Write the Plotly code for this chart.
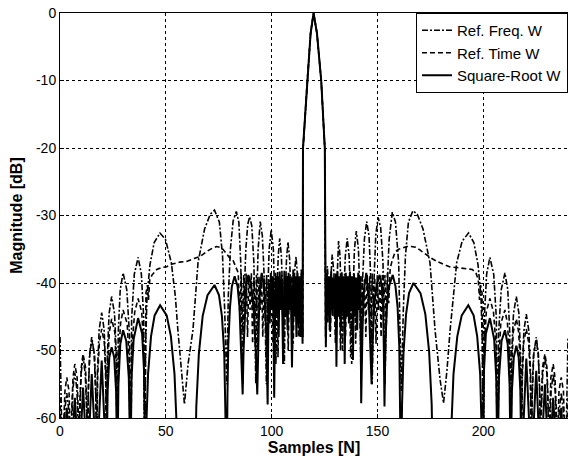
import plotly.graph_objects as go

# values: (sample, magnitude dB)
freq_pts = [
    (0, -48), (1.3, -70),
    (1.6, -65.3), (2.25, -58.8), (3.2, -56.3), (4.15, -58.8), (4.8, -65.3), (5.1, -70),
    (5.4, -62.3), (6.05, -55.8), (7, -53.3), (8, -55.8), (8.7, -62.3), (9, -70),
    (9.3, -60), (9.95, -53.5), (10.9, -51), (11.95, -53.5), (12.7, -60), (13, -70),
    (13.3, -57), (14, -50.5), (15, -48), (16.15, -50.5), (16.95, -57), (17.3, -70),
    (17.65, -53.4), (18.5, -46.9), (19.7, -44.4), (20.85, -46.9), (21.65, -53.4), (22, -70),
    (22.35, -51), (23.2, -44.5), (24.4, -42), (25.75, -44.5), (26.7, -51), (27.1, -70),
    (27.5, -47.5), (28.45, -41), (29.8, -38.5), (31.55, -41), (32.8, -47.5), (33.3, -70),
    (33.85, -45.2), (35.1, -38.7), (36.9, -36.2), (38.45, -38.7), (39.55, -45.2), (40, -70),
    (40.4, -50), (41.1, -42), (42.5, -37.3), (44.5, -34), (47.2, -32.6), (49.8, -33.5),
    (52.6, -37), (54.5, -42), (55.7, -47), (57.5, -54), (58.8, -58),
    (60.5, -52), (62.8, -47), (65.2, -37), (68.3, -32), (71, -29.8), (73, -29.2),
    (75.3, -31), (76.8, -36), (77.8, -44), (78.8, -55),
    (79.5, -42), (80.5, -35), (81.8, -30.8), (83.3, -29.4), (84.5, -31), (85.4, -37), (86.4, -55),
    (87, -42), (87.8, -35), (88.7, -31.3), (89.6, -30.2), (90.6, -31.5), (91.6, -37), (92.5, -55),
    (93, -42), (93.6, -35), (94.6, -30.9), (95.6, -33), (96.6, -40), (97.5, -55),
    (98, -43), (98.8, -35), (99.8, -32.1), (100.8, -35), (101.4, -42), (102, -52),
    (102.5, -42), (103.1, -36), (103.8, -33.4), (104.6, -36), (105.3, -43), (106, -52),
    (106.4, -43), (107, -36.5), (107.7, -33.9), (108.5, -36.5), (109.2, -43), (109.8, -50),
    (110.3, -43), (110.9, -38), (111.5, -36.1), (112.1, -38.5), (113, -48),
    (113.6, -40), (114, -38), (114.5, -45),
    (114.7, -48), (114.85, -20), (116.8, -10), (118.4, -3), (119.8, 0), (121.4, -3),
    (123.4, -10), (125.1, -20), (125.5, -48),
    (125.9, -40), (126.3, -37.5), (126.8, -40), (127.3, -47),
    (127.8, -40), (128.6, -35.8), (129.4, -38.5), (130.2, -48),
    (130.7, -41), (131.1, -36.5), (131.6, -33.8), (132.3, -36), (132.9, -42), (133.4, -50),
    (134, -42), (134.8, -36), (135.7, -33.4), (136.6, -36), (137.3, -43), (137.8, -52),
    (138.4, -42), (139.1, -35), (140, -32.3), (141, -35), (141.7, -42), (142.2, -55),
    (142.9, -40), (143.8, -33.5), (144.9, -30.9), (146, -33), (146.9, -40), (147.5, -55),
    (148.3, -40), (149.2, -32.8), (150.3, -30.3), (151.5, -31.8), (152.6, -37), (153.5, -55),
    (154.4, -42), (155.5, -33.5), (157, -29.5), (158.5, -31), (160, -37), (161.2, -56),
    (162.2, -44), (163.2, -36), (164.6, -31), (166.7, -29.3), (168.8, -29.8), (171.5, -32),
    (174.8, -37), (177.2, -47), (179.6, -54.4), (181.2, -57.8),
    (182.8, -53), (184.3, -47), (187.4, -37), (190, -33.8), (193, -32.6), (195.5, -34),
    (197.5, -37.3), (198.9, -42), (199.6, -50), (200, -70),
    (200.45, -45.2), (201.55, -38.7), (203.1, -36.2), (204.9, -38.7), (206.15, -45.2), (206.7, -70),
    (207.2, -47.5), (208.45, -41), (210.2, -38.5), (211.55, -41), (212.5, -47.5), (212.9, -70),
    (213.3, -51), (214.25, -44.5), (215.6, -42), (216.8, -44.5), (217.65, -51), (218, -70),
    (218.35, -53.6), (219.15, -47.1), (220.3, -44.6), (221.5, -47.1), (222.35, -53.6), (222.7, -70),
    (223.05, -57), (223.85, -50.5), (225, -48), (226, -50.5), (226.7, -57), (227, -70),
    (227.3, -60), (228.05, -53.5), (229.1, -51), (230.05, -53.5), (230.7, -60), (231, -70),
    (231.3, -62.5), (232, -56), (233, -53.5), (233.95, -56), (234.6, -62.5), (234.9, -70),
    (235.2, -65.3), (235.85, -58.8), (236.8, -56.3), (237.75, -58.8), (238.4, -65.3), (238.7, -70),
    (240, -48),
]

time_pts = [
    (0, -57), (1.3, -68),
    (1.7, -61), (2.35, -56), (3.2, -54), (4.25, -56), (4.7, -61), (5.1, -68),
    (5.5, -59), (6.15, -54), (7, -52), (8.1, -54), (8.6, -59), (9, -68),
    (9.4, -57.5), (10.05, -52.5), (10.9, -50.5), (12.05, -52.5), (12.6, -57.5), (13, -68),
    (13.4, -55.5), (14.1, -50.5), (15, -48.5), (16.3, -50.5), (16.85, -55.5), (17.3, -68),
    (17.8, -53.8), (18.6, -48.8), (19.7, -46.8), (20.95, -48.8), (21.55, -53.8), (22, -68),
    (22.5, -52.3), (23.3, -47.3), (24.4, -45.3), (25.9, -47.3), (26.55, -52.3), (27.1, -68),
    (27.65, -51), (28.6, -46), (29.8, -44), (31.75, -46), (32.6, -51), (33.3, -68),
    (34, -49.3), (35.3, -44.3), (36.9, -42.3), (38.6, -44.3), (39.5, -49.3), (40.2, -62),
    (40.6, -41.5), (41.3, -40.3), (41.8, -42.5), (42.4, -39.5), (43.5, -38.8), (45.7, -38),
    (48, -37.7), (50.4, -37.6), (53, -37.2), (56.6, -36.9), (59.8, -36.8), (62, -36.5),
    (64, -36.3), (66, -36.1), (68, -35.6), (70, -35.2), (72.2, -34.8), (74, -34.6),
    (75.5, -34.7), (77, -35), (78.5, -35.6), (80, -36.2), (81.7, -36.6), (83, -37.5), (84.2, -38.5),
    (85, -45), (85.6, -38.6), (86.2, -47), (86.8, -38.8), (87.4, -44), (88, -38.6), (88.6, -48),
    (89.2, -39), (89.8, -44), (90.4, -38.5), (91, -49), (91.6, -39.2), (92.2, -45), (92.8, -38.8),
    (93.4, -50), (94, -39), (94.6, -44), (95.2, -38.6), (95.8, -48), (96.4, -39.3), (97, -45),
    (97.6, -38.8), (98.2, -50), (98.8, -39.5), (99.4, -44), (100, -39), (100.6, -49), (101.2, -39.6),
    (101.8, -45), (102.4, -39), (103, -51), (103.6, -39.4), (104.2, -44), (104.8, -38.8), (105.4, -48),
    (106, -39.5), (106.6, -45), (107.2, -39), (107.8, -50), (108.4, -39.8), (109, -44), (109.6, -39),
    (110.2, -49), (110.8, -39.4), (111.4, -45), (112, -39), (112.6, -48), (113.2, -39.6), (113.8, -46),
    (114.3, -39.2),
    (114.7, -48), (114.85, -20), (116.8, -10), (118.4, -3), (119.8, 0), (121.4, -3),
    (123.4, -10), (125.1, -20), (125.5, -48),
    (125.9, -39.2), (126.5, -46), (127.1, -39.6), (127.7, -48), (128.3, -39), (128.9, -45),
    (129.5, -39.4), (130.1, -49), (130.7, -39), (131.3, -44), (131.9, -39.8), (132.5, -50),
    (133.1, -39), (133.7, -45), (134.3, -39.5), (134.9, -48), (135.5, -39), (136.1, -44),
    (136.7, -38.8), (137.3, -51), (137.9, -39.4), (138.5, -45), (139.1, -39), (139.7, -49),
    (140.3, -39.6), (140.9, -44), (141.5, -39), (142.1, -50), (142.7, -38.8), (143.3, -45),
    (143.9, -39.3), (144.5, -48), (145.1, -38.8), (145.7, -44), (146.3, -39), (146.9, -50),
    (147.5, -38.6), (148.1, -45), (148.7, -39.2), (149.3, -49), (149.9, -38.8), (150.5, -44),
    (151.1, -39), (151.7, -48), (152.3, -38.6), (152.9, -45), (153.5, -38.8), (154.1, -47),
    (154.7, -38.5), (155.3, -43),
    (156, -37.8), (157, -36.6), (158.3, -35.4), (160, -35), (162, -34.8), (164, -34.6),
    (166, -34.6), (168, -34.7), (170, -35.1), (172, -35.6), (175.3, -36.3), (178, -36.8),
    (181, -37.2), (184, -37.6), (187, -37.7), (190, -37.8), (192.5, -37.9), (194.8, -38),
    (196.5, -38.5), (197.6, -39.5), (198.2, -42.5), (198.7, -40.3), (199.4, -41.5), (199.8, -62),
    (200.5, -49.3), (201.4, -44.3), (203.1, -42.3), (204.8, -44.3), (206, -49.3), (206.7, -68),
    (207.4, -51), (208.25, -46), (210.2, -44), (211.4, -46), (212.35, -51), (212.9, -68),
    (213.45, -52.3), (214.1, -47.3), (215.6, -45.3), (216.7, -47.3), (217.5, -52.3), (218, -68),
    (218.45, -53.8), (219.05, -48.8), (220.3, -46.8), (221.4, -48.8), (222.2, -53.8), (222.7, -68),
    (223.15, -55.5), (223.7, -50.5), (225, -48.5), (225.9, -50.5), (226.6, -55.5), (227, -68),
    (227.4, -57.5), (227.95, -52.5), (229.1, -50.5), (230.05, -52.5), (230.6, -57.5), (231, -68),
    (231.4, -59), (231.9, -54), (233, -52), (233.85, -54), (234.5, -59), (234.9, -68),
    (235.3, -61), (235.75, -56), (236.8, -54), (237.85, -56), (238.3, -61), (238.7, -68),
    (240, -57),
]

sqrt_pts = [
    (0, -61), (1.3, -68), (3.2, -58.5), (5.1, -68), (7, -57), (9, -68), (10.9, -55.5), (13, -68),
    (15, -53.5), (17.3, -68), (19.7, -51.5), (22, -68),
    (22.5, -56), (23.3, -51), (24.4, -49.5), (25.6, -51), (26.5, -56), (27.1, -68),
    (27.6, -55), (28.5, -49), (29.8, -47), (31.3, -48.6), (32.5, -54), (33.3, -68),
    (33.8, -54), (34.8, -48.3), (36.9, -45.2), (38.8, -47.5), (39.7, -53), (40.2, -68),
    (40.8, -61), (41.6, -53.5), (43.0, -47.9), (44.7, -44.8), (47.3, -43.3), (50.4, -44.8),
    (52.4, -47.9), (54.1, -53.5), (55.1, -61), (55.8, -70),
    (63.7, -70), (64.4, -58.3), (65.6, -50.5), (67.4, -44.9), (69.7, -41.8), (73, -40.3),
    (75.1, -41.8), (76.5, -44.9), (77.6, -50.5), (78.3, -58.3), (78.8, -70),
    (79.1, -57), (79.5, -49.2), (80.3, -43.6), (81.2, -40.5), (82.5, -39), (83.9, -40.5),
    (84.8, -43.6), (85.5, -49.2), (86.3, -56.5),
    (86.7, -50), (87.3, -44), (88, -40.3), (89, -38.8), (90.3, -40.3), (91.5, -44), (92.5, -50), (93.2, -56.5),
    (93.6, -49), (94.2, -42), (95.3, -38.5), (96.5, -41), (97.4, -47), (98.1, -58),
    (98.6, -40), (99.1, -46), (99.6, -38.5), (100.1, -44), (100.6, -39), (101.2, -57), (101.8, -38.5),
    (102.3, -45), (102.8, -39), (103.3, -48), (103.8, -38.3), (104.3, -44), (104.8, -39.5), (105.4, -52),
    (106, -38.2), (106.5, -45), (107, -39), (107.5, -47), (108, -38.5), (108.5, -44), (109, -39),
    (109.6, -52.5), (110.2, -38), (110.7, -45), (111.2, -39), (111.7, -48), (112.2, -38.5), (112.7, -46),
    (113.2, -39), (113.7, -48), (114.2, -38.5),
    (114.6, -49), (114.8, -20), (116.8, -10), (118.4, -3), (119.8, 0), (121.4, -3),
    (123.4, -10), (125.1, -20), (125.6, -49.5),
    (126.1, -38.5), (126.6, -45), (127.1, -39), (127.6, -47), (128.1, -38.3), (128.6, -44),
    (129.1, -39.2), (129.7, -45), (130.2, -38.6), (130.6, -52.4), (131.1, -38.3), (131.6, -45),
    (132.1, -39), (132.6, -47), (133.1, -38.4), (133.6, -44), (134.1, -39), (134.5, -52),
    (135, -38.5), (135.5, -45), (136, -39), (136.5, -46), (137, -38.3), (137.5, -44), (138, -39),
    (138.4, -51.4), (138.9, -38.6), (139.4, -45), (139.9, -39.2), (140.4, -47), (140.9, -38.5),
    (141.4, -44), (141.9, -39),
    (142.3, -57.8), (142.9, -47), (143.6, -41), (144.7, -38.5), (145.8, -42), (146.5, -49), (147.2, -55),
    (147.7, -49), (148.4, -43.5), (149.6, -40.2), (151, -38.8), (152, -40.3), (152.7, -44), (153, -50), (153.3, -58.3),
    (153.7, -49.5), (154.4, -43.6), (155.4, -40.5), (157.2, -38.8), (158.5, -40.5), (159.5, -43.6),
    (160.3, -49.5), (160.8, -57), (161.1, -70),
    (161.6, -58), (162.3, -50.2), (163.5, -44.6), (164.9, -41.5), (167, -40), (170.3, -41.5),
    (172.6, -44.6), (174.4, -50.2), (175.6, -58), (176.3, -70),
    (184.2, -70), (184.9, -61.3), (185.9, -53.5), (187.7, -47.9), (189.8, -44.8), (192.9, -43.3),
    (195.4, -44.8), (197.1, -47.9), (198.5, -53.5), (199.3, -61.3), (199.9, -70),
    (200.3, -53), (201.2, -47.5), (203.1, -45.2), (205.1, -48.3), (206.1, -54), (206.7, -68),
    (207.4, -54), (208.6, -48.6), (210.2, -47), (211.5, -49), (212.4, -55), (212.9, -68),
    (213.5, -56), (214.4, -51), (215.6, -49.3), (216.7, -51), (217.5, -56), (218, -68),
    (220.3, -51.2), (222.7, -68), (225, -53), (227, -68), (229.1, -55), (231, -68),
    (233, -57), (234.9, -68), (236.8, -58.5), (238.7, -68), (240, -61),
]

x_ticks = [0, 50, 100, 150, 200]
y_ticks = [0, -10, -20, -30, -40, -50, -60]
y_ticktext = ["0", "-10", "-20", "-30", "-40", "-50", "-60"]

FONT = "Liberation Sans, Arial, sans-serif"

fig = go.Figure()

series = [
    ("Ref. Freq. W", freq_pts, "6px,2px,2px,2px", 1.6),
    ("Ref. Time W", time_pts, "5px,3px", 1.6),
    ("Square-Root W", sqrt_pts, "solid", 2),
]
for name, pts, dash, w in series:
    xs = [p[0] for p in pts]
    ys = [p[1] for p in pts]
    fig.add_trace(go.Scatter(x=xs, y=ys, name=name, mode="lines",
                             line=dict(color="black", width=w, dash=dash)))

axis_common = dict(
    showgrid=True, gridcolor="black", gridwidth=1, griddash="3px,3px",
    showline=True, linecolor="black", linewidth=1,
    zeroline=False, ticks="inside", ticklen=4, tickcolor="black",
    tickfont=dict(family=FONT, size=14, color="black"),
)

fig.update_xaxes(range=[0, 240], tickvals=x_ticks, mirror=True,
                 title=dict(text="<b>Samples [N]</b>", font=dict(family=FONT, size=16), standoff=3),
                 **axis_common)
fig.update_yaxes(range=[-60, 0], tickvals=y_ticks, ticktext=y_ticktext, mirror=False,
                 title=dict(text="<b>Magnitude [dB]</b>", font=dict(family=FONT, size=16), standoff=9),
                 **axis_common)

fig.update_layout(
    width=568, height=461,
    margin=dict(l=60, r=0, t=13, b=43, autoexpand=False),
    paper_bgcolor="white", plot_bgcolor="white",
    font=dict(family=FONT, size=14, color="black"),
    legend=dict(x=1, y=1, xanchor="right", yanchor="top", bgcolor="white",
                bordercolor="black", borderwidth=1, font=dict(family=FONT, size=15),
                itemwidth=30, tracegroupgap=0),
)

# drop the default 8px body margin so the figure fills the window exactly
fig.write_html("out.html", config={"displayModeBar": False},
               post_script="document.body.style.margin='0';")
